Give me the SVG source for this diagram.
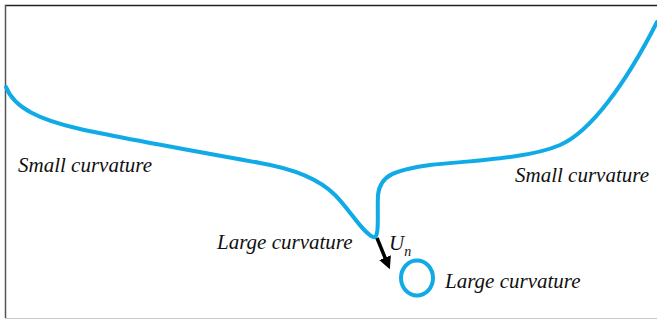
<svg xmlns="http://www.w3.org/2000/svg" width="657" height="321" viewBox="0 0 657 321">
<style>
.lbl{font-family:'Liberation Serif','DejaVu Serif',serif;font-style:italic;font-size:21px;fill:#111}
.curve{fill:none;stroke:#10ABE6;stroke-width:4;stroke-linecap:round;stroke-linejoin:round}
</style>
<defs>
<marker id="ah" viewBox="0 0 10 10" refX="2" refY="5" markerWidth="3.6" markerHeight="3.6" orient="auto" markerUnits="strokeWidth">
<path d="M0,0 L10,5 L0,10 z" fill="#000"/>
</marker>
</defs>
<rect width="657" height="321" fill="#fff"/>
<g id="frame">
<line x1="5" y1="5.5" x2="657" y2="5.5" stroke="#222" stroke-width="1.5"/>
<line x1="5.5" y1="5" x2="5.5" y2="318" stroke="#555" stroke-width="1.5"/>
<line x1="5" y1="318.5" x2="657" y2="318.5" stroke="#c8c8c8" stroke-width="1"/>
</g>
<g id="front">
<path class="curve" d="M6,87 C14,108 40,120 80,129 S200,152 260,163 C295,169 320,180 335,195 C350,210 362,232 373,237 C380,240 377,215 378,195 C380,175 395,170 430,165 C480,160 530,158 560,145 C590,132 625,85 657,22"/>
</g>
<g id="droplet">
<ellipse class="curve" cx="417" cy="278" rx="16" ry="17.5"/>
</g>
<g id="connectors">
<line x1="377" y1="238" x2="386" y2="260" stroke="#000" stroke-width="3.5" marker-end="url(#ah)"/>
</g>
<g id="labels">
<text class="lbl" x="18" y="172">Small curvature</text>
<text class="lbl" x="515" y="182">Small curvature</text>
<text class="lbl" x="217" y="249">Large curvature</text>
<text class="lbl" x="445" y="288">Large curvature</text>
<text class="lbl" x="389" y="250">U<tspan font-size="14" dy="6">n</tspan></text>
</g>
</svg>
